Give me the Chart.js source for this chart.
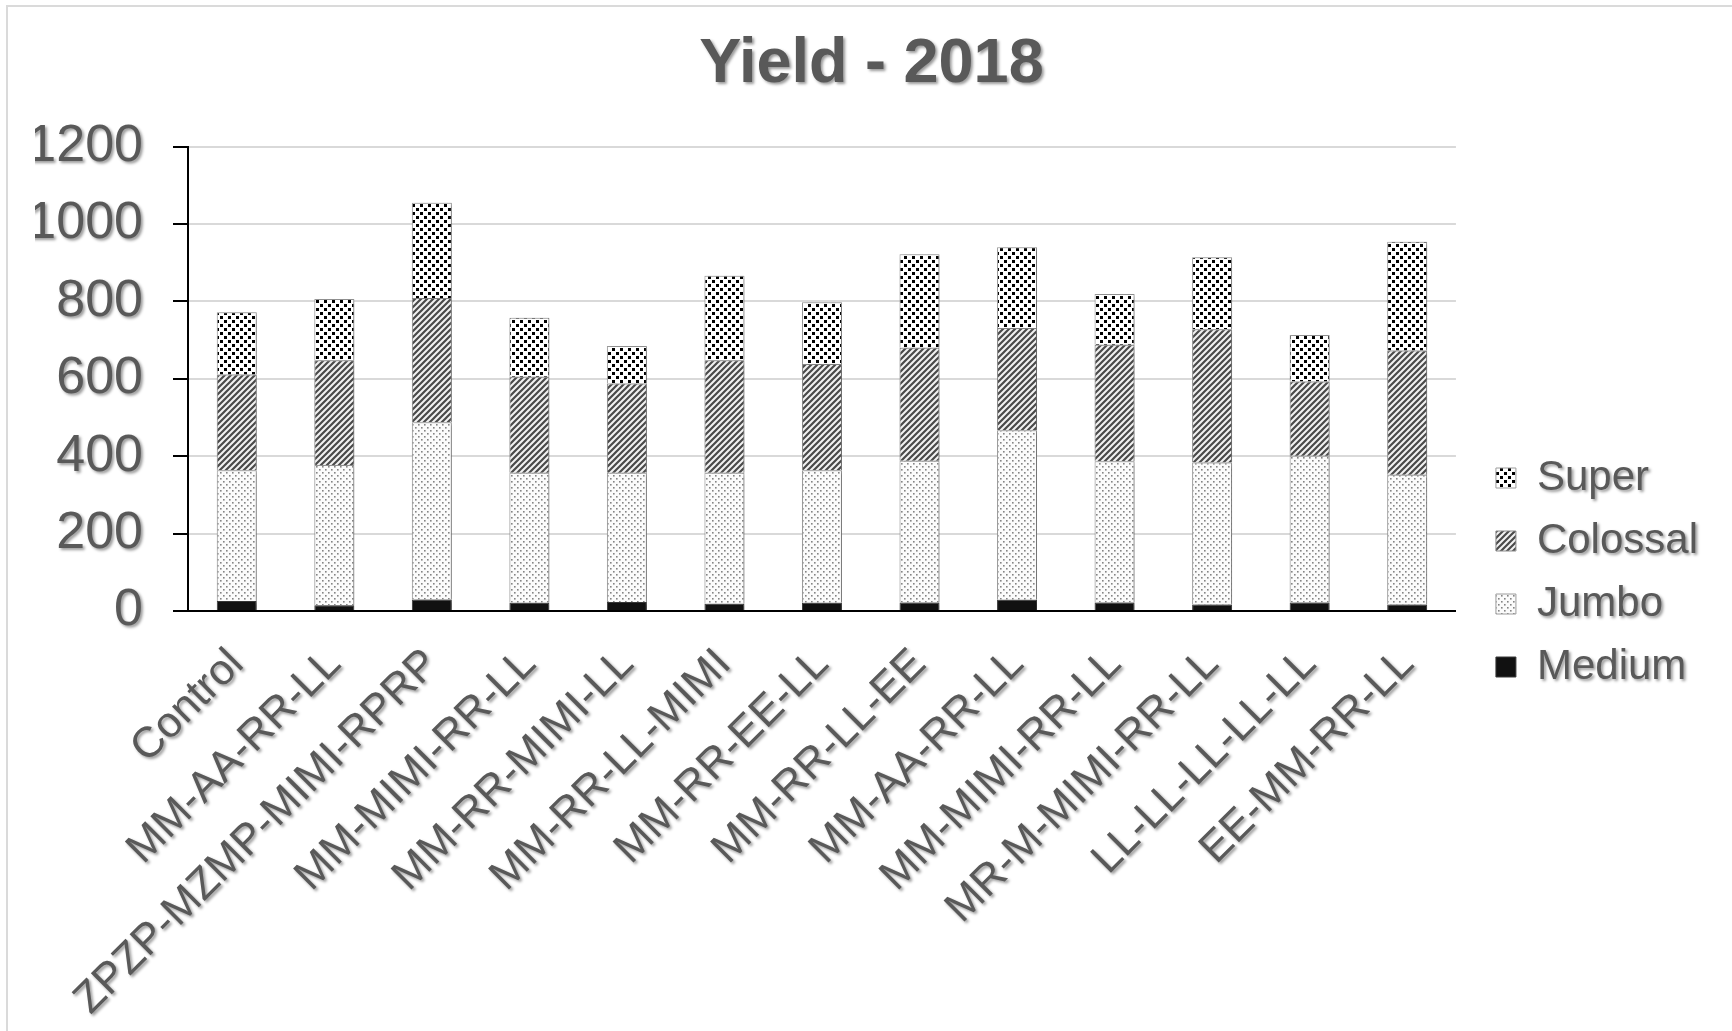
<!DOCTYPE html>
<html>
<head>
<meta charset="utf-8">
<title>Yield - 2018</title>
<script src="https://cdn.jsdelivr.net/npm/chart.js@4.4.0/dist/chart.umd.min.js"></script>
<style>
  html, body { margin: 0; padding: 0; background: #fff; overflow: hidden; }
  #frame { position: absolute; left: 6px; top: 5px; width: 1800px; height: 1100px;
           border-left: 2px solid #dadada; border-top: 2px solid #dadada; }
  #chart { position: absolute; left: 0; top: 0; }
</style>
</head>
<body>
<div id="frame"></div>
<canvas id="chart" width="1732" height="1031"></canvas>
<script>
// categories on the x axis
const categories = [
    'Control', 'MM-AA-RR-LL', 'ZPZP-MZMP-MIMI-RPRP', 'MM-MIMI-RR-LL', 'MM-RR-MIMI-LL',
    'MM-RR-LL-MIMI', 'MM-RR-EE-LL', 'MM-RR-LL-EE', 'MM-AA-RR-LL', 'MM-MIMI-RR-LL',
    'MR-M-MIMI-RR-LL', 'LL-LL-LL-LL-LL', 'EE-MM-RR-LL'
];
// stacked segments, bottom to top
const medium   = [26, 15, 30, 21, 23, 19, 21, 22, 29, 22, 17, 22, 17];
const jumbo    = [338, 362, 458, 336, 334, 338, 343, 366, 438, 365, 367, 379, 335];
const colossal = [247, 271, 321, 248, 231, 291, 274, 292, 264, 301, 344, 192, 321];
const superSz  = [161, 158, 246, 153, 97, 218, 160, 242, 209, 131, 186, 120, 281];
const yTicks = [0, 200, 400, 600, 800, 1000, 1200];

const FONT = "'Liberation Sans', Arial, sans-serif";
const TEXT = '#595959';

// small canvas tiles used as fill patterns
function makePattern(w, h, draw) {
    const c = document.createElement('canvas');
    c.width = w; c.height = h;
    const g = c.getContext('2d');
    draw(g, w, h);
    return g.createPattern(c, 'repeat');
}

const superFill = makePattern(8, 8, g => {
    g.fillStyle = '#ffffff'; g.fillRect(0, 0, 8, 8);
    g.fillStyle = '#000000';
    g.fillRect(0, 0, 3, 3);
    g.fillRect(4, 4, 3, 3);
});
const colossalFill = makePattern(6, 6, g => {
    g.fillStyle = '#f2f2f2'; g.fillRect(0, 0, 6, 6);
    g.strokeStyle = '#4a4a4a'; g.lineWidth = 2.2;
    g.beginPath();
    g.moveTo(-3, 3); g.lineTo(3, -3);
    g.moveTo(-3, 9); g.lineTo(9, -3);
    g.moveTo(3, 9); g.lineTo(9, 3);
    g.stroke();
});
const jumboFill = makePattern(6, 6, g => {
    g.fillStyle = '#fbfbfb'; g.fillRect(0, 0, 6, 6);
    g.fillStyle = '#848484';
    g.fillRect(1, 1, 1.6, 1.6);
    g.fillRect(4, 4, 1.6, 1.6);
});

// gray drop shadow on every piece of text, like the original
const textShadow = {
    id: 'textShadow',
    beforeInit(chart) {
        const ctx = chart.ctx;
        const orig = ctx.fillText.bind(ctx);
        ctx.fillText = function (...args) {
            ctx.save();
            ctx.shadowColor = 'rgba(0,0,0,0.4)';
            ctx.shadowOffsetX = 2;
            ctx.shadowOffsetY = 2;
            ctx.shadowBlur = 3;
            orig(...args);
            ctx.restore();
        };
    }
};

// soft shadow under the bars
const barShadow = {
    id: 'barShadow',
    beforeDatasetsDraw(chart) {
        const ctx = chart.ctx;
        ctx.save();
        ctx.shadowColor = 'rgba(0,0,0,0.35)';
        ctx.shadowOffsetX = 2;
        ctx.shadowOffsetY = 1;
        ctx.shadowBlur = 4;
    },
    afterDatasetsDraw(chart) {
        chart.ctx.restore();
    }
};

const ds = (label, data, fill, border) => ({
    label, data,
    backgroundColor: fill,
    borderColor: border,
    borderWidth: 1,
    categoryPercentage: 0.82,
    barPercentage: 0.5
});

new Chart(document.getElementById('chart'), {
    type: 'bar',
    data: {
        labels: categories,
        datasets: [
            ds('Medium', medium, '#111111', '#3a3a3a'),
            ds('Jumbo', jumbo, jumboFill, '#9c9c9c'),
            ds('Colossal', colossal, colossalFill, '#8a8a8a'),
            ds('Super', superSz, superFill, '#9c9c9c')
        ]
    },
    options: {
        responsive: false,
        animation: false,
        devicePixelRatio: 1,
        layout: { padding: { left: 35, right: 24, top: 0, bottom: 0 } },
        plugins: {
            title: {
                display: true,
                text: 'Yield - 2018',
                color: TEXT,
                font: { family: FONT, size: 63, weight: 'bold' },
                padding: { top: 27, bottom: 44 }
            },
            legend: {
                position: 'right',
                reverse: true,
                // empty title only pushes the items down a little
                title: { display: true, text: '', font: { size: 10 }, padding: { top: 102, bottom: 0 } },
                labels: {
                    color: TEXT,
                    font: { family: FONT, size: 42 },
                    boxWidth: 20,
                    boxHeight: 20,
                    padding: 21
                }
            },
            tooltip: { enabled: false }
        },
        scales: {
            x: {
                stacked: true,
                grid: { display: false, drawTicks: false },
                border: { display: true, color: '#000000', width: 2 },
                ticks: {
                    color: TEXT,
                    font: { family: FONT, size: 43 },
                    minRotation: 45,
                    maxRotation: 45,
                    autoSkip: false,
                    padding: 28
                },
                afterFit: s => { s.height = 420; }
            },
            y: {
                stacked: true,
                min: 0,
                max: 1200,
                afterBuildTicks: s => { s.ticks = yTicks.map(v => ({ value: v })); },
                grid: { color: '#d9d9d9', lineWidth: 2, tickColor: '#000000', tickLength: 15, tickWidth: 2 },
                border: { display: true, color: '#000000', width: 2 },
                ticks: {
                    color: TEXT,
                    font: { family: FONT, size: 52 },
                    padding: 30,
                    callback: v => String(v)
                },
                afterFit: s => { s.width = 153; }
            },
            // blank strip between the plot and the legend
            gap: {
                position: 'right',
                display: true,
                grid: { display: false },
                border: { display: false },
                ticks: { display: false },
                afterFit: s => { s.width = 19; }
            }
        }
    },
    plugins: [textShadow, barShadow]
});
</script>
</body>
</html>
